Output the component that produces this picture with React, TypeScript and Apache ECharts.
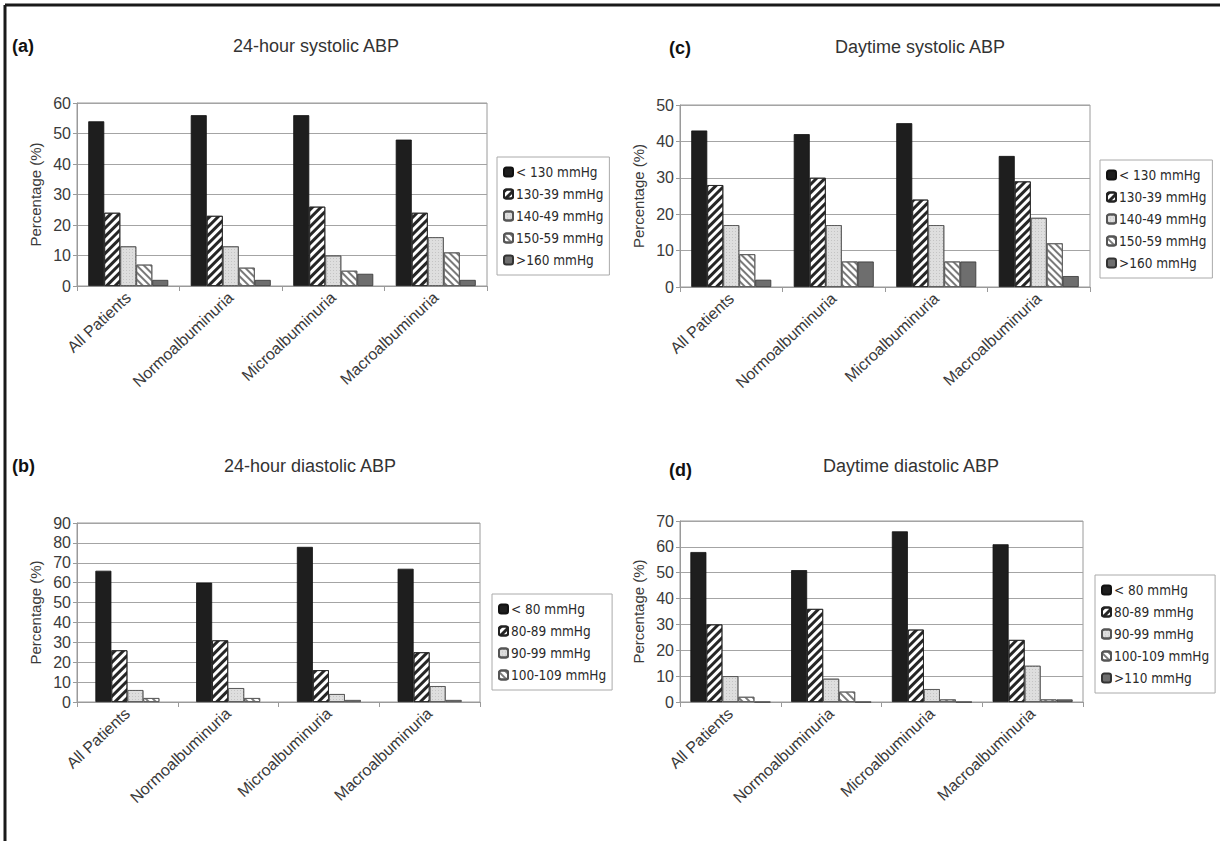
import React, { useEffect, useRef } from "react";
import * as echarts from "echarts";

const categories = ["All Patients", "Normoalbuminuria", "Microalbuminuria", "Macroalbuminuria"];

// (a) 24-hour systolic ABP
const sysNames = ["< 130 mmHg", "130-39 mmHg", "140-49 mmHg", "150-59 mmHg", ">160 mmHg"];
const a_lt130 = [54, 56, 56, 48];
const a_130_39 = [24, 23, 26, 24];
const a_140_49 = [13, 13, 10, 16];
const a_150_59 = [7, 6, 5, 11];
const a_gt160 = [2, 2, 4, 2];

// (c) Daytime systolic ABP
const c_lt130 = [43, 42, 45, 36];
const c_130_39 = [28, 30, 24, 29];
const c_140_49 = [17, 17, 17, 19];
const c_150_59 = [9, 7, 7, 12];
const c_gt160 = [2, 7, 7, 3];

// (b) 24-hour diastolic ABP
const bNames = ["< 80 mmHg", "80-89 mmHg", "90-99 mmHg", "100-109 mmHg"];
const b_lt80 = [66, 60, 78, 67];
const b_80_89 = [26, 31, 16, 25];
const b_90_99 = [6, 7, 4, 8];
const b_100_109 = [2, 2, 1, 1];

// (d) Daytime diastolic ABP
const dNames = ["< 80 mmHg", "80-89 mmHg", "90-99 mmHg", "100-109 mmHg", ">110 mmHg"];
const d_lt80 = [58, 51, 66, 61];
const d_80_89 = [30, 36, 28, 24];
const d_90_99 = [10, 9, 5, 14];
const d_100_109 = [2, 4, 1, 1];
const d_gt110 = [0, 0, 0, 1];

const yMaxA = 60;
const yMaxC = 50;
const yMaxB = 90;
const yMaxD = 70;

const styles: any[] = [
  { color: "#1e1e1e", borderColor: "#111111" },
  {
    color: "#ffffff",
    borderColor: "#222222",
    decal: { symbol: "rect", symbolSize: 1, dashArrayX: [1, 0], dashArrayY: [2.6, 2.2], rotation: -Math.PI / 4, color: "#262626" },
  },
  {
    color: "#dedede",
    borderColor: "#555555",
    decal: { symbol: "rect", symbolSize: 1, dashArrayX: [1, 2], dashArrayY: [1, 2], color: "#c4c4c4" },
  },
  {
    color: "#ffffff",
    borderColor: "#555555",
    decal: { symbol: "rect", symbolSize: 1, dashArrayX: [1, 0], dashArrayY: [1.4, 3], rotation: Math.PI / 4, color: "#7a7a7a" },
  },
  { color: "#6e6e6e", borderColor: "#333333" },
];

const FONT = "'Liberation Sans', Arial, sans-serif";

interface Panel {
  grid: { left: number; top: number; width: number; height: number };
  max: number;
  names: string[];
  values: number[][];
  legend: { left: number; top: number };
}

const panels: Panel[] = [
  {
    grid: { left: 77, top: 103, width: 410, height: 183 },
    max: yMaxA,
    names: sysNames,
    values: [a_lt130, a_130_39, a_140_49, a_150_59, a_gt160],
    legend: { left: 497, top: 157 },
  },
  {
    grid: { left: 680, top: 105, width: 410, height: 182 },
    max: yMaxC,
    names: sysNames,
    values: [c_lt130, c_130_39, c_140_49, c_150_59, c_gt160],
    legend: { left: 1100, top: 160 },
  },
  {
    grid: { left: 77, top: 523, width: 403, height: 179 },
    max: yMaxB,
    names: bNames,
    values: [b_lt80, b_80_89, b_90_99, b_100_109],
    legend: { left: 492, top: 594 },
  },
  {
    grid: { left: 680, top: 521, width: 403, height: 181 },
    max: yMaxD,
    names: dNames,
    values: [d_lt80, d_80_89, d_90_99, d_100_109, d_gt110],
    legend: { left: 1095, top: 575 },
  },
];

const titles = [
  { text: "24-hour systolic ABP", x: 316, y: 46 },
  { text: "Daytime systolic ABP", x: 920, y: 47 },
  { text: "24-hour diastolic ABP", x: 310, y: 466 },
  { text: "Daytime diastolic ABP", x: 911, y: 466 },
];
const tags = [
  { text: "(a)", x: 12, y: 46 },
  { text: "(c)", x: 669, y: 48 },
  { text: "(b)", x: 12, y: 466 },
  { text: "(d)", x: 669, y: 470 },
];

export default function App() {
  const ref = useRef<HTMLDivElement>(null);
  useEffect(() => {
    if (!ref.current) return;
    const chart = echarts.init(ref.current, undefined, { renderer: "svg" });
    const grid: any[] = [];
    const xAxis: any[] = [];
    const yAxis: any[] = [];
    const legend: any[] = [];
    const series: any[] = [];
    panels.forEach((p, i) => {
      grid.push({ ...p.grid, show: true, borderColor: "#9a9a9a", borderWidth: 1, backgroundColor: "#ffffff" });
      xAxis.push({
        type: "category",
        gridIndex: i,
        data: categories,
        axisLine: { lineStyle: { color: "#9a9a9a" } },
        axisTick: { show: true, length: 5, lineStyle: { color: "#9a9a9a" } },
        axisLabel: { rotate: 43, fontSize: 16, color: "#3a3a3a", fontFamily: FONT, margin: 9 },
      });
      yAxis.push({
        type: "value",
        gridIndex: i,
        min: 0,
        max: p.max,
        interval: 10,
        name: "Percentage (%)",
        nameLocation: "middle",
        nameGap: 34,
        nameTextStyle: { fontSize: 15, color: "#3a3a3a", fontFamily: FONT },
        axisLine: { show: true, lineStyle: { color: "#9a9a9a" } },
        axisTick: { show: true, length: 4, lineStyle: { color: "#9a9a9a" } },
        axisLabel: { fontSize: 16, color: "#3a3a3a", fontFamily: FONT, margin: 6 },
        splitLine: { show: true, lineStyle: { color: "#a4a4a4", width: 1 } },
      });
      legend.push({
        orient: "vertical",
        left: p.legend.left,
        top: p.legend.top,
        data: p.names,
        itemWidth: 9,
        itemHeight: 9,
        itemGap: 8,
        padding: [8, 6, 8, 6],
        backgroundColor: "#ffffff",
        borderColor: "#aaaaaa",
        borderWidth: 1,
        borderRadius: 0,
        selectedMode: false,
        textStyle: {
          fontSize: 13.5,
          color: "#2a2a2a",
          fontFamily: "'DejaVu Sans Condensed', 'DejaVu Sans', Verdana, sans-serif",
          padding: [0, 0, 0, -2],
        },
      });
      p.names.forEach((n, k) => {
        series.push({
          type: "bar",
          name: n,
          xAxisIndex: i,
          yAxisIndex: i,
          data: p.values[k],
          barWidth: 16,
          barGap: "0%",
          itemStyle: { ...styles[k], borderWidth: 0.8 },
        });
      });
    });
    const graphic: any[] = [
      { type: "line", shape: { x1: 5, y1: 5, x2: 1220, y2: 5 }, style: { stroke: "#1a1a1a", lineWidth: 3 } },
      { type: "line", shape: { x1: 5, y1: 5, x2: 5, y2: 841 }, style: { stroke: "#1a1a1a", lineWidth: 3 } },
    ];
    titles.forEach((t) =>
      graphic.push({
        type: "text",
        x: t.x,
        y: t.y,
        style: { text: t.text, font: `18px ${FONT}`, fill: "#333333", align: "center", verticalAlign: "middle" },
      })
    );
    tags.forEach((t) =>
      graphic.push({
        type: "text",
        x: t.x,
        y: t.y,
        style: { text: t.text, font: `bold 18px ${FONT}`, fill: "#111111", align: "left", verticalAlign: "middle" },
      })
    );
    chart.setOption({
      animation: false,
      backgroundColor: "#ffffff",
      grid,
      xAxis,
      yAxis,
      legend,
      series,
      graphic,
    });
    return () => chart.dispose();
  }, []);
  return <div ref={ref} style={{ position: "absolute", left: 0, top: 0, width: 1220, height: 841 }} />;
}
